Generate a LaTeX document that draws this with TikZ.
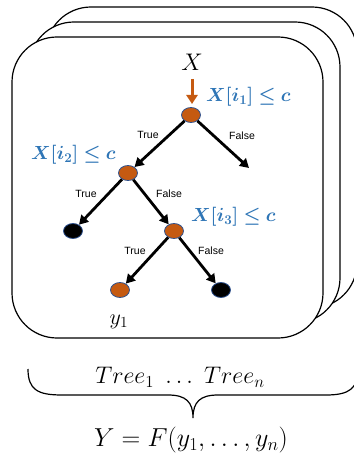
\RequirePackage{fix-cm}
\documentclass[tikz,border=0pt]{standalone}
\usepackage{fontspec}
\usepackage{amsmath,amssymb,bm}
\usetikzlibrary{arrows.meta,positioning,shapes.geometric}
\newfontfamily\labfont{Liberation Sans}
\definecolor{leaforange}{HTML}{C55A11}
\definecolor{rimblue}{HTML}{2F528F}
\definecolor{condblue}{HTML}{2E75B6}

\tikzset{
  card/.style={draw=black,line width=1.2pt,rounded corners=45pt,fill=white},
  split/.style={ellipse,draw=rimblue,line width=0.8pt,fill=leaforange,minimum width=19pt,minimum height=15pt,inner sep=0pt},
  endleaf/.style={ellipse,draw=rimblue,line width=0.8pt,fill=black,minimum width=19pt,minimum height=15pt,inner sep=0pt},
  branch/.style={line width=2.8pt,-{Triangle[length=9pt,width=10pt]}},
  edgelab/.style={font=\labfont\fontsize{10.5}{12}\selectfont,inner sep=0pt},
  cond/.style={text=condblue,font=\fontsize{19}{23}\selectfont,inner sep=0pt},
  bigmath/.style={font=\fontsize{24}{28}\selectfont,inner sep=0pt}
}

\begin{document}
\begin{tikzpicture}[x=1pt,y=-1pt]
  \useasboundingbox (0,0) rectangle (353,462);

  % stack of trees
  \draw[card] (46,7) rectangle (357,308);
  \draw[card] (29,22) rectangle (340,323);
  \draw[card] (12,37) rectangle (323,338);

  % tree nodes
  \node[split] (root) at (191,115) {};
  \node[split] (n2) at (128,173) {};
  \node[endleaf] (lf1) at (73,231) {};
  \node[split] (n3) at (174,231) {};
  \node[split] (lf2) at (120,290) {};
  \node[endleaf] (lf3) at (221,290) {};
  \coordinate (rf) at (249,168);

  % input
  \node[bigmath] (xin) at (192,62) {$X$};
  \coordinate (xtop) at (192,79);
  \coordinate (xbot) at (192,104);
  \draw[leaforange,line width=3pt,-{Triangle[length=9pt,width=11pt]}] (xtop) -- (xbot);

  % conditions
  \node[cond,anchor=west] (c1) at (206,97) {$\bm{X[i_1]\leq c}$};
  \node[cond,anchor=west] (c2) at (31,155) {$\bm{X[i_2]\leq c}$};
  \node[cond,anchor=west] (c3) at (191,217) {$\bm{X[i_3]\leq c}$};

  % branches
  \draw[branch] (root) -- (n2);
  \draw[branch] (root) -- (rf);
  \draw[branch] (n2) -- (lf1);
  \draw[branch] (n2) -- (n3);
  \draw[branch] (n3) -- (lf2);
  \draw[branch] (n3) -- (lf3);

  \node[edgelab] (t1) at (148,135) {True};
  \node[edgelab] (f1) at (242,136) {False};
  \node[edgelab] (t2) at (86,194) {True};
  \node[edgelab] (f2) at (169,194) {False};
  \node[edgelab] (t3) at (135,251) {True};
  \node[edgelab] (f3) at (211,251) {False};

  \node[bigmath,font=\fontsize{22}{26}\selectfont] (y1) at (119,322) {$y_1$};

  % ensemble
  \node[bigmath] (trees) at (180,377) {$Tree_1\ \ldots\ Tree_n$};
  \draw[line width=1.2pt] (28,369) .. controls (28,390) and (38,395) .. (62,395)
    -- (168,395) .. controls (186,395) and (193,402) .. (193,418)
    .. controls (193,402) and (200,395) .. (218,395)
    -- (326,395) .. controls (350,395) and (358,388) .. (358,369);
  \node[bigmath,font=\fontsize{26}{30}\selectfont] (yout) at (191,440) {$Y=F(y_1,\ldots,y_n)$};
\end{tikzpicture}
\end{document}
